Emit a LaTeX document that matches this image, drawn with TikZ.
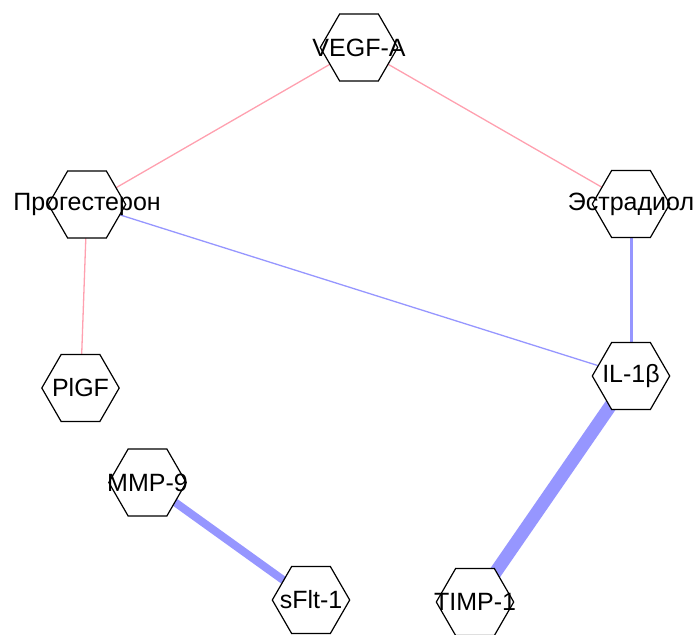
\documentclass[tikz,border=0pt]{standalone}
\usepackage{fontspec}
\setmainfont{Liberation Sans}
\usetikzlibrary{shapes.geometric,backgrounds}
\definecolor{pinkedge}{RGB}{255,160,175}
\definecolor{blueedge}{RGB}{150,150,255}
\tikzset{
  hex/.style={regular polygon, regular polygon sides=6, minimum size=77.4pt, inner sep=0pt, outer sep=0pt, draw=black, line width=1.2pt, fill=white},
  lab/.style={font=\fontsize{25pt}{27pt}\selectfont, inner sep=0pt, text=black},
  posedge/.style={draw=pinkedge, line width=1.3pt},
  negedge/.style={draw=blueedge},
}
\begin{document}
\begin{tikzpicture}[x=1pt,y=-1pt]
\useasboundingbox (0,0) rectangle (697,635);
\node[hex] (vegf) at (359,47.5) {};
\node[hex] (prog) at (87,204.5) {};
\node[hex] (estr) at (631,204) {};
\node[hex] (plgf) at (80.5,388) {};
\node[hex] (il) at (631,376) {};
\node[hex] (mmp) at (147.5,482.5) {};
\node[hex] (sflt) at (311,600) {};
\node[hex] (timp) at (475,602) {};
\node[lab] (tvegf) at (vegf.center) {VEGF-A};
\node[lab] (tprog) at (prog.center) {Прогестерон};
\node[lab] (testr) at (estr.center) {Эстрадиол};
\node[lab] (tplgf) at (plgf.center) {PlGF};
\node[lab] (til) at (il.center) {IL-1β};
\node[lab] (tmmp) at (mmp.center) {MMP-9};
\node[lab] (tsflt) at (sflt.center) {sFlt-1};
\node[lab] (ttimp) at (timp.center) {TIMP-1};
\begin{pgfonlayer}{background}
\draw[posedge] (vegf.center) -- (prog.center);
\draw[posedge] (vegf.center) -- (estr.center);
\draw[posedge] (prog.center) -- (plgf.center);
\draw[negedge, line width=1.3pt] (prog.center) -- (il.center);
\draw[negedge, line width=3pt] (estr.center) -- (il.center);
\draw[negedge, line width=13pt] (il.center) -- (timp.center);
\draw[negedge, line width=8pt] (mmp.center) -- (sflt.center);
\end{pgfonlayer}
\end{tikzpicture}
\end{document}
